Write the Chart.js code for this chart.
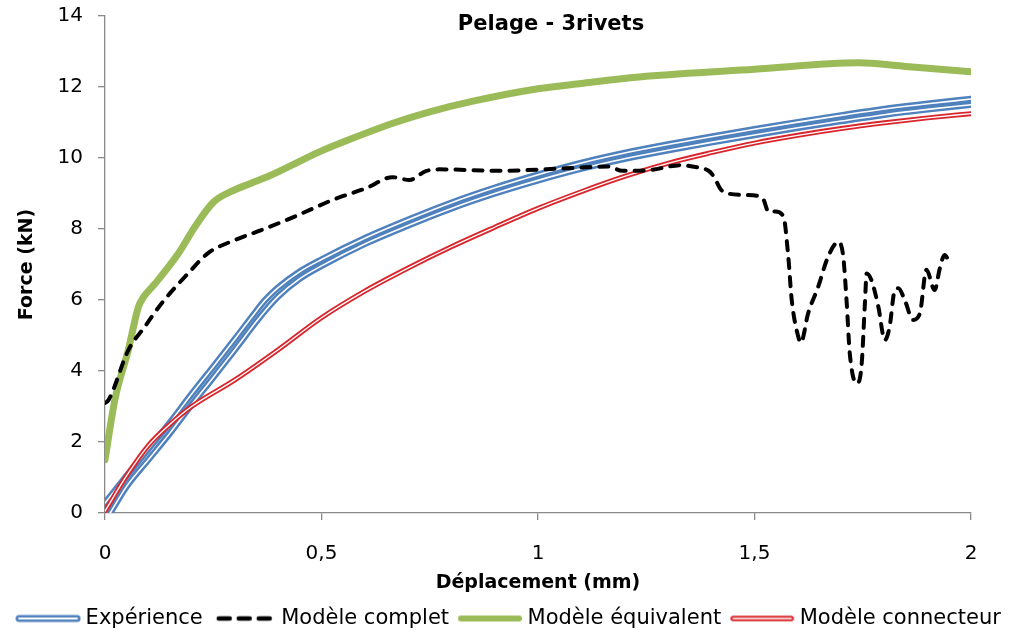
<!DOCTYPE html>
<html><head><meta charset="utf-8">
<script src="https://cdn.jsdelivr.net/npm/chart.js@4.4.0/dist/chart.umd.min.js"></script>
<style>html,body{margin:0;padding:0;background:#fff}</style>
</head><body>
<canvas id="c" width="1022" height="633" style="width:1022px;height:633px;display:block"></canvas>
<script>
const chartTitle = 'Pelage - 3rivets';
const xTitle = 'Déplacement (mm)';
const yTitle = 'Force (kN)';
const xTicks = [0, 0.5, 1, 1.5, 2];
const yTicks = [0, 2, 4, 6, 8, 10, 12, 14];
const legendTexts = ['Expérience', 'Modèle complet', 'Modèle équivalent', 'Modèle connecteur'];

// Expérience (two test curves)
const expAX = [0,0.05,0.1,0.15,0.2,0.25,0.3,0.35,0.37,0.4,0.45,0.5,0.6,0.7,0.8,0.9,1.0,1.1,1.2,1.3,1.4,1.5,1.6,1.7,1.8,1.9,2.0];
const expAY = [0.28,1.05,1.8,2.55,3.35,4.12,4.9,5.7,6.0,6.35,6.8,7.14,7.74,8.26,8.74,9.16,9.53,9.86,10.14,10.38,10.6,10.81,11.01,11.2,11.38,11.53,11.66];
const expBX = [0.012,0.05,0.1,0.15,0.2,0.25,0.3,0.35,0.37,0.4,0.45,0.5,0.6,0.7,0.8,0.9,1.0,1.1,1.2,1.3,1.4,1.5,1.6,1.7,1.8,1.9,2.0];
const expBY = [0,0.75,1.5,2.25,3.05,3.82,4.6,5.4,5.7,6.1,6.6,6.96,7.58,8.1,8.58,9.0,9.37,9.7,9.98,10.22,10.44,10.65,10.85,11.04,11.22,11.37,11.5];

// Modèle complet
const compX = [0,0.008,0.054,0.092,0.131,0.192,0.238,0.3,0.361,0.438,0.526,0.603,0.664,0.703,0.741,0.772,0.91,1.064,1.164,1.194,1.256,1.333,1.356,1.394,1.406,1.425,1.471,1.509,1.521,1.532,1.548,1.567,1.578,1.586,1.601,1.607,1.624,1.647,1.67,1.694,1.705,1.713,1.72,1.736,1.747,1.755,1.759,1.77,1.786,1.801,1.812,1.824,1.832,1.847,1.866,1.882,1.897,1.916,1.928,1.939,1.951];
const compY = [3.1,3.18,4.59,5.25,5.91,6.75,7.32,7.69,7.97,8.35,8.82,9.15,9.46,9.38,9.63,9.68,9.64,9.71,9.76,9.64,9.66,9.8,9.76,9.64,9.48,9.08,8.96,8.93,8.82,8.49,8.49,8.35,7.22,6.0,4.97,4.8,5.63,6.37,7.22,7.64,7.22,5.91,4.5,3.65,4.12,5.91,6.75,6.56,5.81,4.87,5.25,6.28,6.33,6.0,5.44,5.63,6.85,6.28,6.89,7.27,7.03];

// Modèle équivalent
const eqX = [0,0.023,0.054,0.077,0.09,0.115,0.169,0.207,0.25,0.29,0.34,0.38,0.44,0.5,0.56,0.67,0.75,0.85,1.0,1.1,1.25,1.5,1.74,1.85,2.0];
const eqY = [1.5,3.2,4.6,5.8,6.1,6.45,7.3,8.05,8.75,9.05,9.3,9.5,9.85,10.2,10.5,11.0,11.3,11.6,11.95,12.1,12.3,12.5,12.68,12.58,12.43];

// Modèle connecteur
const conX = [0,0.05,0.1,0.15,0.2,0.3,0.4,0.5,0.6,0.7,0.8,0.9,1.0,1.1,1.2,1.3,1.4,1.5,1.6,1.7,1.8,1.9,2.0];
const conY = [0.05,1.05,1.9,2.5,3.0,3.75,4.6,5.5,6.25,6.9,7.5,8.05,8.58,9.05,9.48,9.85,10.15,10.42,10.64,10.83,10.99,11.13,11.25];

const BLUE = '#4f81bd', GREEN = '#9bbb59', RED = '#d9262c', WHITE = '#ffffff', BLACK = '#000000', AXIS = '#8a8a8a';
const FONT = '"DejaVu Sans", sans-serif';

function pts(xs, ys) { return xs.map((x, i) => ({x: x, y: ys[i]})); }
const base = {pointRadius: 0, pointHoverRadius: 0, fill: false, cubicInterpolationMode: 'monotone', borderJoinStyle: 'round', borderCapStyle: 'round'};

function icon(fn) {
  const c = document.createElement('canvas'); c.width = 66; c.height = 14;
  const g = c.getContext('2d'); fn(g); return c;
}
function seg(g, color, w, x0, x1, dash) {
  g.save(); g.strokeStyle = color; g.lineWidth = w; g.lineCap = 'round';
  if (dash) g.setLineDash(dash);
  g.beginPath(); g.moveTo(x0, 7); g.lineTo(x1, 7); g.stroke(); g.restore();
}
const icons = [
  icon(g => { seg(g, BLUE, 7, 4, 62); seg(g, WHITE, 1.8, 4, 62); }),
  icon(g => { seg(g, BLACK, 4.5, 8, 59, [11, 9]); }),
  icon(g => { seg(g, GREEN, 6, 4, 62); }),
  icon(g => { seg(g, RED, 5.5, 4, 62); seg(g, WHITE, 1.5, 4, 62); })
];

const datasets = [
  Object.assign({label: legendTexts[0], data: pts(expAX, expAY), borderColor: BLUE, borderWidth: 6.5, order: 8}, base),
  Object.assign({label: 'exp2', data: pts(expBX, expBY), borderColor: BLUE, borderWidth: 6.5, order: 7}, base),
  Object.assign({label: 'w1', data: pts(expAX, expAY), borderColor: WHITE, borderWidth: 1.6, order: 6}, base),
  Object.assign({label: 'w2', data: pts(expBX, expBY), borderColor: WHITE, borderWidth: 1.6, order: 5}, base),
  Object.assign({label: legendTexts[1], data: pts(compX, compY), borderColor: BLACK, borderWidth: 4, borderDash: [9, 9], order: 1}, base),
  Object.assign({label: legendTexts[2], data: pts(eqX, eqY), borderColor: GREEN, borderWidth: 7, order: 4}, base),
  Object.assign({label: legendTexts[3], data: pts(conX, conY), borderColor: RED, borderWidth: 5, order: 3}, base),
  Object.assign({label: 'w3', data: pts(conX, conY), borderColor: WHITE, borderWidth: 1.3, order: 2}, base)
];
const legendDs = [0, 4, 5, 6];

const titlePlugin = {
  id: 'ttl',
  afterDraw(chart) {
    const ctx = chart.ctx, a = chart.chartArea;
    ctx.save();
    ctx.font = 'bold 21px ' + FONT; ctx.fillStyle = BLACK;
    ctx.textAlign = 'center'; ctx.textBaseline = 'middle';
    ctx.fillText(chartTitle, (a.left + a.right) / 2 + 13, a.top + 9);
    ctx.restore();
  }
};

Chart.defaults.font.family = FONT;
Chart.defaults.color = BLACK;

new Chart(document.getElementById('c'), {
  type: 'line',
  data: {datasets: datasets},
  plugins: [titlePlugin],
  options: {
    responsive: false, animation: false, devicePixelRatio: 1,
    layout: {padding: {top: 16, left: 0, right: 0, bottom: -6}},
    plugins: {
      tooltip: {enabled: false},
      title: {display: false},
      legend: {
        position: 'bottom', onClick: null,
        labels: {
          usePointStyle: true, pointStyleWidth: 54, padding: 14,
          font: {size: 21, family: FONT}, color: BLACK,
          generateLabels: () => legendDs.map((di, k) => ({
            text: legendTexts[k], datasetIndex: di, pointStyle: icons[k],
            fillStyle: WHITE, strokeStyle: WHITE, lineWidth: 0, hidden: false, fontColor: BLACK
          }))
        }
      }
    },
    scales: {
      x: {
        type: 'linear', min: 0, max: 2,
        afterBuildTicks: s => { s.ticks = xTicks.map(v => ({value: v})); },
        afterFit: s => { s.height = 81; },
        grid: {drawOnChartArea: false, drawTicks: true, tickLength: 7, color: AXIS, lineWidth: 1.3},
        border: {color: AXIS, width: 1.3},
        ticks: {font: {size: 20}, padding: 22, maxRotation: 0, callback: v => String(v).replace('.', ',')},
        title: {display: true, text: xTitle, font: {size: 19, weight: 'bold'}, padding: {top: 5, bottom: 0}}
      },
      y: {
        type: 'linear', min: 0, max: 14, position: 'left',
        afterBuildTicks: s => { s.ticks = yTicks.map(v => ({value: v})); },
        afterFit: s => { s.width = 105; s.paddingTop = 0; s.paddingBottom = 0; },
        grid: {drawOnChartArea: false, drawTicks: true, tickLength: 7, color: AXIS, lineWidth: 1.3},
        border: {color: AXIS, width: 1.3},
        ticks: {font: {size: 20}, padding: 15},
        title: {display: true, text: yTitle, font: {size: 19, weight: 'bold'}, padding: {top: 16, bottom: 0}}
      },
      yr: {
        type: 'linear', position: 'right', display: true, min: 0, max: 14,
        afterFit: s => { s.width = 51; s.paddingTop = 0; s.paddingBottom = 0; },
        grid: {display: false, drawTicks: false}, border: {display: false},
        ticks: {display: false}
      }
    }
  }
});
</script>
</body></html>
